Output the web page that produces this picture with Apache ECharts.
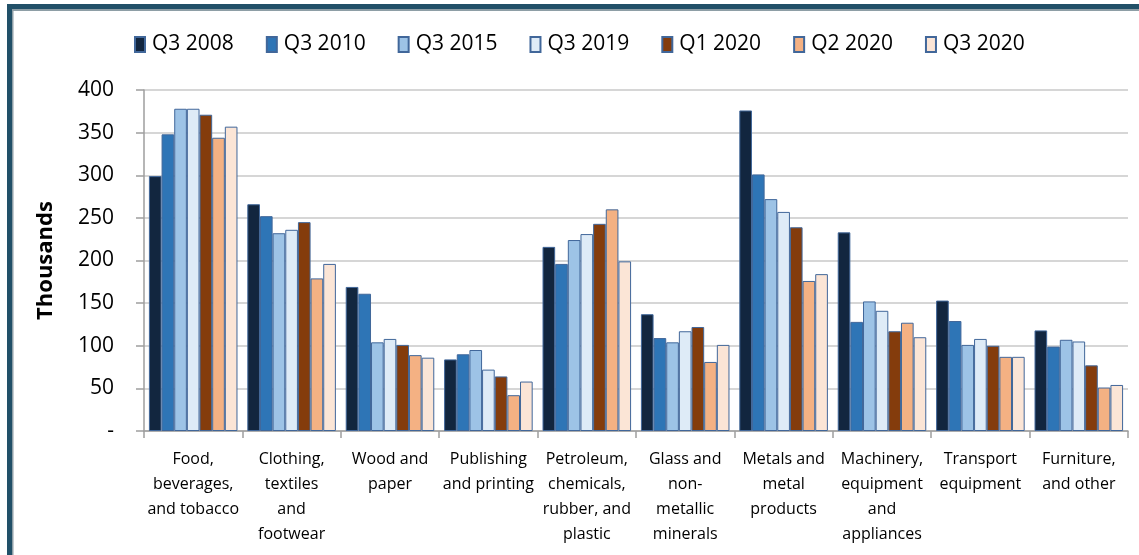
<!DOCTYPE html>
<html>
<head>
<meta charset="utf-8">
<script src="https://cdn.jsdelivr.net/npm/echarts@6/dist/echarts.min.js"></script>
<style>
html,body{margin:0;padding:0;background:#fff;}
#chart{width:1139px;height:555px;}
</style>
</head>
<body>
<div id="chart"></div>
<script>
const categories = [
  'Food,\nbeverages,\nand tobacco',
  'Clothing,\ntextiles\nand\nfootwear',
  'Wood and\npaper',
  'Publishing\nand printing',
  'Petroleum,\nchemicals,\nrubber, and\nplastic',
  'Glass and\nnon-\nmetallic\nminerals',
  'Metals and\nmetal\nproducts',
  'Machinery,\nequipment\nand\nappliances',
  'Transport\nequipment',
  'Furniture,\nand other'
];
const seriesNames = ['Q3 2008','Q3 2010','Q3 2015','Q3 2019','Q1 2020','Q2 2020','Q3 2020'];
const q3_2008 = [299, 266, 169, 84, 216, 137, 376, 233, 153, 118];
const q3_2010 = [348, 252, 161, 90, 196, 109, 301, 128, 129, 99];
const q3_2015 = [378, 232, 104, 95, 224, 104, 272, 152, 101, 107];
const q3_2019 = [378, 236, 108, 72, 231, 117, 257, 141, 108, 105];
const q1_2020 = [371, 245, 101, 64, 243, 122, 239, 117, 100, 77];
const q2_2020 = [344, 179, 89, 42, 260, 81, 176, 127, 87, 51];
const q3_2020 = [357, 196, 86, 58, 199, 101, 184, 110, 87, 54];
const seriesValues = [q3_2008, q3_2010, q3_2015, q3_2019, q1_2020, q2_2020, q3_2020];
const colors = ['#12263f','#2e75b6','#9dc3e6','#deebf7','#843c0c','#f4b183','#fbe5d6'];
const yTicks = { min: 0, max: 400, interval: 50 };

const FONT = '"Open Sans", sans-serif';
const chart = echarts.init(document.getElementById('chart'), null, {renderer: 'canvas'});
chart.setOption({
  animation: false,
  textStyle: {fontFamily: FONT},
  graphic: [
    {type: 'rect', shape: {x: 7, y: 4, width: 1139, height: 5}, style: {fill: '#215068'}, z: 100},
    {type: 'rect', shape: {x: 12, y: 9, width: 1139, height: 2}, style: {fill: '#8e9ea6'}, z: 100},
    {type: 'rect', shape: {x: 7, y: 4, width: 5, height: 560}, style: {fill: '#215068'}, z: 100},
    {type: 'rect', shape: {x: 12, y: 9, width: 1.5, height: 560}, style: {fill: '#8e9ea6'}, z: 100}
  ],
  legend: {
    data: seriesNames,
    left: 134,
    top: 34,
    padding: 0,
    itemWidth: 10,
    itemHeight: 15,
    itemGap: 32,
    icon: 'rect',
    textStyle: {fontFamily: FONT, fontSize: 21, color: '#000', padding: [0, 0, 0, 2]}
  },
  grid: {left: 144, right: 11, top: 90, bottom: 124},
  xAxis: {
    type: 'category',
    data: categories,
    axisLine: {lineStyle: {color: '#9e9e9e', width: 1.5}},
    axisTick: {show: true, length: 7, lineStyle: {color: '#9e9e9e', width: 1.5}},
    axisLabel: {interval: 0, fontFamily: FONT, fontSize: 16, color: '#000', lineHeight: 25, margin: 16}
  },
  yAxis: {
    type: 'value',
    min: yTicks.min, max: yTicks.max, interval: yTicks.interval,
    name: 'Thousands',
    nameLocation: 'middle',
    nameGap: 87,
    nameRotate: 90,
    nameTextStyle: {fontFamily: FONT, fontSize: 22, fontWeight: 'bold', color: '#000'},
    axisLine: {show: true, lineStyle: {color: '#9e9e9e', width: 1.5}},
    axisTick: {show: true, length: 8, lineStyle: {color: '#9e9e9e', width: 1.5}},
    axisLabel: {fontFamily: FONT, fontSize: 21, color: '#000', margin: 30,
      formatter: v => v === 0 ? '-' : String(v)},
    splitLine: {lineStyle: {color: '#c8c8c8', width: 1.5}}
  },
  series: seriesNames.map((name, i) => ({
    name: name,
    type: 'bar',
    data: seriesValues[i],
    barGap: '0%',
    barCategoryGap: '10%',
    itemStyle: {color: colors[i], borderColor: '#41679a', borderWidth: 1}
  }))
});
</script>
</body>
</html>
